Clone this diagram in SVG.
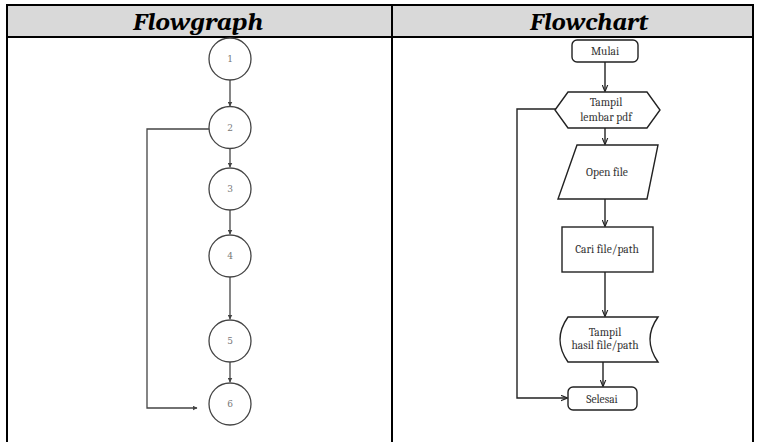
<svg xmlns="http://www.w3.org/2000/svg" width="777" height="442" viewBox="0 0 777 442">
  <style>
    .title { font-family: Cambria, "DejaVu Serif", "Liberation Serif", serif; font-weight: bold; font-style: italic; font-size: 24px; fill: #000; }
    .rule { stroke: #000; stroke-width: 2; fill: none; }
    .circ { fill: #fff; stroke: #444; stroke-width: 1.3; }
    .num { font-family: "DejaVu Serif", "Liberation Serif", serif; font-size: 9px; fill: #777; text-anchor: middle; }
    .shape { fill: #fff; stroke: #222; stroke-width: 1.4; }
    .lbl { font-family: Cambria, "Liberation Serif", "DejaVu Serif", serif; font-size: 11.5px; fill: #333; text-anchor: middle; }
    .edge { stroke: #444; stroke-width: 1.3; fill: none; }
    .edge2 { stroke: #222; stroke-width: 1.4; fill: none; }
  </style>
  <defs>
    <marker id="ah" viewBox="0 0 10 10" refX="9" refY="5" markerWidth="5" markerHeight="5" orient="auto" markerUnits="userSpaceOnUse">
      <path d="M0,0 L10,5 L0,10 z" fill="#444"/>
    </marker>
    <marker id="ah2" viewBox="0 0 10 10" refX="9" refY="5" markerWidth="7" markerHeight="7" orient="auto" markerUnits="userSpaceOnUse">
      <path d="M0,1 L10,5 L0,9" fill="none" stroke="#222" stroke-width="1.6"/>
    </marker>
  </defs>

  <rect width="777" height="442" fill="#fff"/>

  <!-- table frame -->
  <g id="table">
    <rect x="7" y="5" width="746" height="32" fill="#d9d9d9"/>
    <line class="rule" x1="7" y1="5" x2="753" y2="5"/>
    <line class="rule" x1="7" y1="37" x2="753" y2="37"/>
    <line class="rule" x1="7" y1="4" x2="7" y2="442" stroke-width="1"/>
    <line class="rule" x1="753" y1="4" x2="753" y2="442" stroke-width="1"/>
    <line class="rule" x1="392" y1="4" x2="392" y2="442"/>
    <text class="title" x="198" y="30" text-anchor="middle" textLength="130" lengthAdjust="spacingAndGlyphs">Flowgraph</text>
    <text class="title" x="589" y="30" text-anchor="middle" textLength="118" lengthAdjust="spacingAndGlyphs">Flowchart</text>
  </g>

  <!-- flowgraph connectors -->
  <g id="graph-edges">
    <line class="edge" x1="230" y1="80" x2="230" y2="106" marker-end="url(#ah)"/>
    <line class="edge" x1="230" y1="148" x2="230" y2="167" marker-end="url(#ah)"/>
    <line class="edge" x1="230" y1="210" x2="230" y2="234" marker-end="url(#ah)"/>
    <line class="edge" x1="230" y1="277" x2="230" y2="319" marker-end="url(#ah)"/>
    <line class="edge" x1="230" y1="362" x2="230" y2="382" marker-end="url(#ah)"/>
    <polyline class="edge" stroke="#222" points="209,129 147,129 147,408 197,408" marker-end="url(#ah)"/>
  </g>

  <!-- flowgraph nodes -->
  <g id="n1"><circle class="circ" cx="230" cy="59" r="21"/><text class="num" x="230" y="62">1</text></g>
  <g id="n2"><circle class="circ" cx="230" cy="127.5" r="21"/><text class="num" x="230" y="131">2</text></g>
  <g id="n3"><circle class="circ" cx="230" cy="189" r="21"/><text class="num" x="230" y="192">3</text></g>
  <g id="n4"><circle class="circ" cx="230" cy="256" r="21"/><text class="num" x="230" y="259">4</text></g>
  <g id="n5"><circle class="circ" cx="230" cy="341" r="21"/><text class="num" x="230" y="344">5</text></g>
  <g id="n6"><circle class="circ" cx="230" cy="404" r="21"/><text class="num" x="230" y="407">6</text></g>

  <!-- flowchart connectors -->
  <g id="chart-edges">
    <line class="edge2" x1="605" y1="62" x2="605" y2="91" marker-end="url(#ah2)"/>
    <line class="edge2" x1="605" y1="128" x2="605" y2="144" marker-end="url(#ah2)"/>
    <line class="edge2" x1="605" y1="199" x2="605" y2="226" marker-end="url(#ah2)"/>
    <line class="edge2" x1="605" y1="272" x2="605" y2="316" marker-end="url(#ah2)"/>
    <line class="edge2" x1="603" y1="362" x2="603" y2="386" marker-end="url(#ah2)"/>
    <polyline class="edge2" points="556,109 517,109 517,398 567,398" marker-end="url(#ah2)"/>
  </g>

  <!-- flowchart nodes -->
  <g id="mulai">
    <rect class="shape" x="572" y="40" width="66" height="22" rx="5"/>
    <text class="lbl" x="605" y="55">Mulai</text>
  </g>
  <g id="tampil-pdf">
    <polygon class="shape" points="555,110 568,92 647,92 660,110 647,128 568,128"/>
    <text class="lbl" x="606" y="106">Tampil</text>
    <text class="lbl" x="606" y="121">lembar pdf</text>
  </g>
  <g id="open-file">
    <polygon class="shape" points="577,145 658,145 647,199 558,199"/>
    <text class="lbl" x="607" y="176">Open file</text>
  </g>
  <g id="cari">
    <rect class="shape" x="562" y="227" width="91" height="45"/>
    <text class="lbl" x="607" y="253">Cari file/path</text>
  </g>
  <g id="tampil-hasil">
    <path class="shape" d="M568,317 L658,317 Q642,339.5 658,362 L568,362 Q552,339.5 568,317 Z"/>
    <text class="lbl" x="605" y="336">Tampil</text>
    <text class="lbl" x="605" y="349">hasil file/path</text>
  </g>
  <g id="selesai">
    <rect class="shape" x="568" y="387" width="69" height="23" rx="5"/>
    <text class="lbl" x="602" y="403">Selesai</text>
  </g>
</svg>
